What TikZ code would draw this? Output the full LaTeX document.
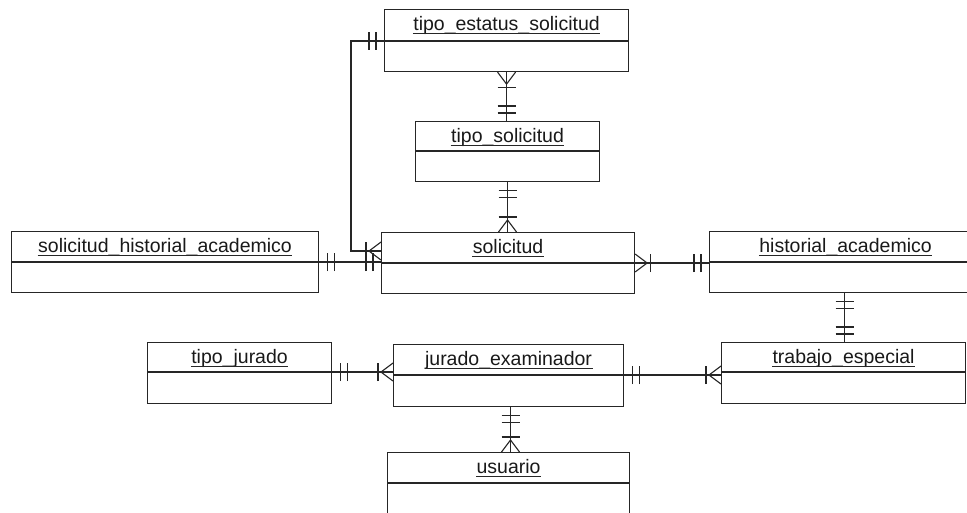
\documentclass[tikz,border=0pt]{standalone}
\usepackage{fontspec}
\setmainfont{Liberation Sans}
\usetikzlibrary{calc,decorations.markings}

% Entity: name, x, y (top left), width, height, divider offset, title
\newcommand\erEntity[7]{%
  \node[entbox, minimum width=#4pt, minimum height=#5pt] (#1) at (#2,#3) {};
  \coordinate (#1-dl) at ([yshift=-#6pt]#1.north west);
  \coordinate (#1-dr) at ([yshift=-#6pt]#1.north east);
  \draw (#1-dl) -- (#1-dr);
  \node[titletext] (#1-t) at ([yshift=-21pt]#1.north) {#7};
  \draw[uline] ([yshift=-3.2pt]#1-t.base west) -- ([yshift=-3.2pt]#1-t.base east);
}

\tikzset{
  entbox/.style={draw, fill=white, anchor=north west, inner sep=0pt},
  titletext/.style={anchor=base, inner sep=0pt, text=black!90,
    font=\fontsize{19.5}{22}\selectfont},
  uline/.style={line width=1.2pt},
  % mandatory one (two bars) at the start / end of a connector
  onestart/.style={postaction={decorate, decoration={markings,
    mark=at position 8pt with {\draw (0,-9pt) -- (0,9pt);},
    mark=at position 15pt with {\draw (0,-9pt) -- (0,9pt);}}}},
  oneend/.style={postaction={decorate, decoration={markings,
    mark=at position -8pt with {\draw (0,-9pt) -- (0,9pt);},
    mark=at position -15pt with {\draw (0,-9pt) -- (0,9pt);}}}},
  % one or many (bar and crow's foot) at the start / end of a connector
  manystart/.style={postaction={decorate, decoration={markings,
    mark=at position 12pt with {\draw (-12pt,9pt) -- (0,0) -- (-12pt,-9pt);},
    mark=at position 15pt with {\draw (0,-9pt) -- (0,9pt);}}}},
  manyend/.style={postaction={decorate, decoration={markings,
    mark=at position -12pt with {\draw (12pt,9pt) -- (0,0) -- (12pt,-9pt);},
    mark=at position -15pt with {\draw (0,-9pt) -- (0,9pt);}}}},
}

\begin{document}
\begin{tikzpicture}[x=1pt, y=-1pt, line width=1.1pt, draw=black!85]
  \useasboundingbox (0,0) rectangle (967,512);
  \fill[white] (0,0) rectangle (967,512);
  \clip (0,0) rectangle (967,512);

  % entities
  \erEntity{se}{384}{9}{244}{62}{32}{tipo\_estatus\_solicitud}
  \erEntity{ts}{415}{121}{184}{60}{30}{tipo\_solicitud}
  \erEntity{sol}{381}{232}{253}{61}{31}{solicitud}
  \erEntity{sha}{11}{231}{307}{61}{31}{solicitud\_historial\_academico}
  \erEntity{ha}{709}{231}{272}{61}{31}{historial\_academico}
  \erEntity{tj}{147}{342}{184}{61}{30}{tipo\_jurado}
  \erEntity{je}{393}{344}{230}{62}{31}{jurado\_examinador}
  \erEntity{te}{721}{342}{244}{61}{30}{trabajo\_especial}
  \erEntity{us}{387}{452}{242}{62}{31}{usuario}

  % relationships
  \coordinate (sol-in) at ([yshift=-19pt]sol.north west);
  \draw[onestart, manyend] (se-dl) -- ++(-33,0) |- (sol-in);
  \draw[onestart, oneend] (sha-dr) -- (sha-dr -| sol.west);
  \draw[manystart, oneend] (se.south) -- (se.south |- ts.north);
  \draw[onestart, manyend] (ts.south) -- (ts.south |- sol.north);
  \draw[manystart, oneend] (sol-dr) -- (sol-dr -| ha.west);
  \draw[onestart, oneend] ([xshift=-1pt]ha.south) -- ([xshift=-1pt]ha.south |- te.north);
  \draw[onestart, manyend] (tj-dr) -- (tj-dr -| je.west);
  \draw[onestart, manyend] (je-dr) -- (je-dr -| te.west);
  \draw[onestart, manyend] ([xshift=2pt]je.south) -- ([xshift=2pt]je.south |- us.north);
\end{tikzpicture}
\end{document}
